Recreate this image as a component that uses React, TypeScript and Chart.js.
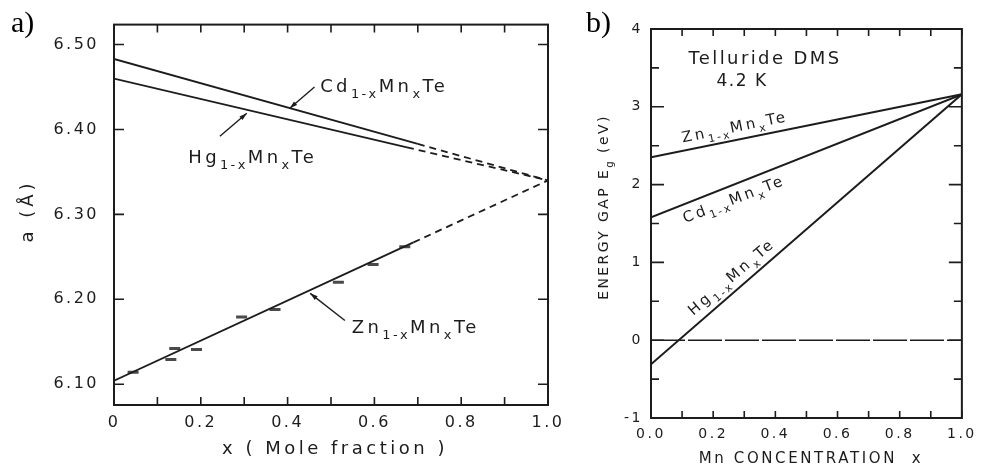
import React, { useEffect, useRef } from 'react';
import { Chart, registerables } from 'chart.js';

Chart.register(...registerables);

const FONT = '"DejaVu Sans", sans-serif';
const SERIF = '"Liberation Serif", "Times New Roman", serif';
const INK = '#1c1c1c';

// ---------------- Panel a: lattice constant ----------------
const aTickX = [0, 0.1, 0.2, 0.3, 0.4, 0.5, 0.6, 0.7, 0.8, 0.9, 1.0];
const aTickXLabels = ['0', '', '0.2', '', '0.4', '', '0.6', '', '0.8', '', '1.0'];
const aTickY = [6.1, 6.2, 6.3, 6.4, 6.5];
const aTickYLabels = ['6.10', '6.20', '6.30', '6.40', '6.50'];

const cdSolidX = [0, 0.70];
const cdSolidA = [6.483, 6.383];
const cdDashX = [0.70, 1.0];
const cdDashA = [6.383, 6.340];

const hgSolidX = [0, 0.675];
const hgSolidA = [6.460, 6.379];
const hgDashX = [0.675, 1.0];
const hgDashA = [6.379, 6.340];

const znSolidX = [0, 0.69];
const znSolidA = [6.104, 6.267];
const znDashX = [0.69, 1.0];
const znDashA = [6.267, 6.340];

const znMeasX = [0.044, 0.131, 0.14, 0.19, 0.294, 0.371, 0.517, 0.597, 0.67];
const znMeasA = [6.114, 6.129, 6.142, 6.141, 6.179, 6.188, 6.220, 6.241, 6.262];

// ---------------- Panel b: energy gap ----------------
const bTickX = [0, 0.1, 0.2, 0.3, 0.4, 0.5, 0.6, 0.7, 0.8, 0.9, 1.0];
const bTickXLabels = ['0.0', '', '0.2', '', '0.4', '', '0.6', '', '0.8', '', '1.0'];
const bTickY = [-1, -0.5, 0, 0.5, 1, 1.5, 2, 2.5, 3, 3.5, 4];
const bTickYLabels = ['-1', '', '0', '', '1', '', '2', '', '3', '', '4'];

const mnX = [0, 1];
const znEg = [2.35, 3.16];
const cdEg = [1.58, 3.16];
const hgEg = [-0.31, 3.16];
const zeroEg = [0, 0];

// ---------------- text helpers ----------------
type Seg = { t: string; sub?: boolean };
const name = (a: string): Seg[] => [
  { t: a }, { t: '1-x', sub: true }, { t: 'Mn' }, { t: 'x', sub: true }, { t: 'Te' },
];

type TxtOpt = { size: number; sp: number; align?: 'left' | 'center'; angle?: number; weight?: string; family?: string };

function segsWidth(ctx: CanvasRenderingContext2D, segs: Seg[], o: TxtOpt) {
  let w = 0;
  for (const s of segs) {
    const fs = s.sub ? o.size * 0.72 : o.size;
    ctx.font = `${o.weight || 'normal'} ${fs}px ${o.family || FONT}`;
    (ctx as any).letterSpacing = `${s.sub ? o.sp * 0.7 : o.sp}px`;
    w += ctx.measureText(s.t).width;
  }
  return w;
}

function drawRich(ctx: CanvasRenderingContext2D, segs: Seg[], x: number, y: number, o: TxtOpt) {
  ctx.save();
  ctx.translate(x, y);
  if (o.angle) ctx.rotate((o.angle * Math.PI) / 180);
  const w = segsWidth(ctx, segs, o);
  let cx = o.align === 'left' ? 0 : -w / 2;
  const base = o.size * 0.36;
  ctx.textAlign = 'left';
  ctx.textBaseline = 'alphabetic';
  ctx.fillStyle = INK;
  for (const s of segs) {
    const fs = s.sub ? o.size * 0.72 : o.size;
    ctx.font = `${o.weight || 'normal'} ${fs}px ${o.family || FONT}`;
    (ctx as any).letterSpacing = `${s.sub ? o.sp * 0.7 : o.sp}px`;
    ctx.fillText(s.t, cx, s.sub ? base + o.size * 0.34 : base);
    cx += ctx.measureText(s.t).width;
  }
  ctx.restore();
}

function arrow(ctx: CanvasRenderingContext2D, x1: number, y1: number, x2: number, y2: number) {
  ctx.save();
  ctx.strokeStyle = INK;
  ctx.fillStyle = INK;
  ctx.lineWidth = 1.4;
  ctx.beginPath();
  ctx.moveTo(x1, y1);
  ctx.lineTo(x2, y2);
  ctx.stroke();
  const a = Math.atan2(y2 - y1, x2 - x1);
  const L = 8;
  ctx.beginPath();
  ctx.moveTo(x2, y2);
  ctx.lineTo(x2 - L * Math.cos(a - 0.3), y2 - L * Math.sin(a - 0.3));
  ctx.lineTo(x2 - L * Math.cos(a + 0.3), y2 - L * Math.sin(a + 0.3));
  ctx.closePath();
  ctx.fill();
  ctx.restore();
}

function drawFrameTicks(
  chart: any,
  xs: number[],
  ys: number[],
  xLen: (v: number) => number,
  yLen: (v: number) => number,
) {
  const { ctx, chartArea: ca, scales } = chart;
  ctx.save();
  ctx.strokeStyle = INK;
  ctx.lineWidth = 1.6;
  ctx.beginPath();
  for (const v of xs) {
    const px = scales.x.getPixelForValue(v);
    const L = xLen(v);
    ctx.moveTo(px, ca.bottom);
    ctx.lineTo(px, ca.bottom - L);
    ctx.moveTo(px, ca.top);
    ctx.lineTo(px, ca.top + L);
  }
  for (const v of ys) {
    const py = scales.y.getPixelForValue(v);
    const L = yLen(v);
    ctx.moveTo(ca.left, py);
    ctx.lineTo(ca.left + L, py);
    ctx.moveTo(ca.right, py);
    ctx.lineTo(ca.right - L, py);
  }
  ctx.stroke();
  ctx.lineWidth = 2;
  ctx.strokeRect(ca.left, ca.top, ca.right - ca.left, ca.bottom - ca.top);
  ctx.restore();
}

const pts = (xs: number[], ys: number[]) => xs.map((x, i) => ({ x, y: ys[i] }));
const lineDs = (xs: number[], ys: number[], dash: number[] = [], w = 1.8) => ({
  data: pts(xs, ys),
  showLine: true,
  borderColor: INK,
  borderWidth: w,
  borderDash: dash,
  pointRadius: 0,
  tension: 0,
});

// annotation layout (positions in data units)
const annA = [
  { segs: name('Cd'), x: 0.475, y: 6.452, fx: 0.462, fy: 6.450, tx: 0.405, ty: 6.425 },
  { segs: name('Hg'), x: 0.171, y: 6.368, fx: 0.244, fy: 6.392, tx: 0.306, ty: 6.419 },
  { segs: name('Zn'), x: 0.548, y: 6.168, fx: 0.532, fy: 6.175, tx: 0.452, ty: 6.207 },
];
const annB = [
  { segs: name('Zn'), x: 0.269, y: 2.747, angle: -11.5 },
  { segs: name('Cd'), x: 0.266, y: 1.821, angle: -21 },
  { segs: name('Hg'), x: 0.258, y: 0.819, angle: -40.5 },
];

function configA(): any {
  const deco = {
    id: 'decoA',
    beforeDraw(chart: any) {
      (chart.ctx as any).letterSpacing = '2.5px';
    },
    afterDraw(chart: any) {
      const ctx = chart.ctx as CanvasRenderingContext2D;
      (ctx as any).letterSpacing = '0px';
      drawFrameTicks(chart, aTickX, aTickY, () => 8, () => 10);
      const sx = chart.scales.x, sy = chart.scales.y;
      for (const a of annA) {
        drawRich(ctx, a.segs, sx.getPixelForValue(a.x), sy.getPixelForValue(a.y), { size: 18, sp: 3.4, align: 'left' });
        arrow(ctx, sx.getPixelForValue(a.fx), sy.getPixelForValue(a.fy), sx.getPixelForValue(a.tx), sy.getPixelForValue(a.ty));
      }
      drawRich(ctx, [{ t: 'x ( Mole fraction )' }], 335, 448, { size: 18, sp: 3.5 });
      drawRich(ctx, [{ t: 'a (Å)' }], 27, 211, { size: 18, sp: 4, angle: -90 });
      ctx.save();
      (ctx as any).letterSpacing = '0px';
      ctx.font = `30px ${SERIF}`;
      ctx.fillStyle = '#000';
      ctx.textBaseline = 'alphabetic';
      ctx.textAlign = 'left';
      ctx.fillText('a)', 11, 32);
      ctx.restore();
    },
  };
  return {
    type: 'scatter',
    data: {
      datasets: [
        lineDs(cdSolidX, cdSolidA),
        lineDs(cdDashX, cdDashA, [7, 5]),
        lineDs(hgSolidX, hgSolidA),
        lineDs(hgDashX, hgDashA, [7, 5]),
        lineDs(znSolidX, znSolidA),
        lineDs(znDashX, znDashA, [7, 5]),
        {
          data: pts(znMeasX, znMeasA),
          showLine: false,
          pointStyle: 'line',
          pointRadius: 5.5,
          pointBorderWidth: 3,
          pointBorderColor: '#4a4a4a',
          pointBackgroundColor: '#4a4a4a',
        },
      ],
    },
    options: {
      animation: false,
      responsive: false,
      events: [],
      layout: { padding: { left: 0, top: 23, right: 27, bottom: 0 } },
      plugins: { legend: { display: false }, tooltip: { enabled: false } },
      scales: {
        x: {
          type: 'linear',
          min: 0,
          max: 1,
          grid: { display: false, drawTicks: false },
          border: { display: false },
          afterBuildTicks: (s: any) => { s.ticks = aTickX.map((v) => ({ value: v })); },
          afterFit: (s: any) => { s.height = 61; },
          ticks: {
            autoSkip: false, maxRotation: 0, padding: 8, color: INK,
            font: { family: FONT, size: 16 },
            callback: (_v: any, i: number) => aTickXLabels[i],
          },
        },
        y: {
          type: 'linear',
          min: 6.0755,
          max: 6.5235,
          grid: { display: false, drawTicks: false },
          border: { display: false },
          afterBuildTicks: (s: any) => { s.ticks = aTickY.map((v) => ({ value: v })); },
          afterFit: (s: any) => { s.width = 114; },
          ticks: {
            autoSkip: false, padding: 15, color: INK,
            font: { family: FONT, size: 16 },
            callback: (_v: any, i: number) => aTickYLabels[i],
          },
        },
      },
    },
    plugins: [deco],
  };
}

function configB(): any {
  const deco = {
    id: 'decoB',
    beforeDraw(chart: any) {
      (chart.ctx as any).letterSpacing = '2.5px';
    },
    afterDraw(chart: any) {
      const ctx = chart.ctx as CanvasRenderingContext2D;
      (ctx as any).letterSpacing = '0px';
      drawFrameTicks(chart, bTickX, bTickY, () => 7, (v) => (Number.isInteger(v) ? 13 : 8));
      const sx = chart.scales.x, sy = chart.scales.y;
      for (const a of annB) {
        drawRich(ctx, a.segs, sx.getPixelForValue(a.x), sy.getPixelForValue(a.y), { size: 15, sp: 3, angle: a.angle });
      }
      drawRich(ctx, [{ t: 'Telluride DMS' }], 190, 58, { size: 18, sp: 2.4 });
      drawRich(ctx, [{ t: '4.2 K' }], 167, 80, { size: 17, sp: 1.5 });
      drawRich(ctx, [{ t: 'Mn CONCENTRATION  x' }], 236, 458, { size: 15, sp: 2.6 });
      drawRich(ctx, [{ t: 'ENERGY GAP E' }, { t: 'g', sub: true }, { t: ' (eV)' }], 28, 207, { size: 14, sp: 2.4, angle: -90 });
      ctx.save();
      (ctx as any).letterSpacing = '0px';
      ctx.font = `30px ${SERIF}`;
      ctx.fillStyle = '#000';
      ctx.textBaseline = 'alphabetic';
      ctx.textAlign = 'left';
      ctx.fillText('b)', 11, 32);
      ctx.restore();
    },
  };
  return {
    type: 'scatter',
    data: {
      datasets: [
        lineDs(mnX, zeroEg, [34, 3], 1.5),
        lineDs(mnX, znEg, [], 2),
        lineDs(mnX, cdEg, [], 2),
        lineDs(mnX, hgEg, [], 2),
      ],
    },
    options: {
      animation: false,
      responsive: false,
      events: [],
      layout: { padding: { left: 0, top: 29, right: 14, bottom: 0 } },
      plugins: { legend: { display: false }, tooltip: { enabled: false } },
      scales: {
        x: {
          type: 'linear',
          min: 0,
          max: 1,
          grid: { display: false, drawTicks: false },
          border: { display: false },
          afterBuildTicks: (s: any) => { s.ticks = bTickX.map((v) => ({ value: v })); },
          afterFit: (s: any) => { s.height = 48; },
          ticks: {
            autoSkip: false, maxRotation: 0, padding: 8, color: INK,
            font: { family: FONT, size: 14 },
            callback: (_v: any, i: number) => bTickXLabels[i],
          },
        },
        y: {
          type: 'linear',
          min: -1,
          max: 4,
          grid: { display: false, drawTicks: false },
          border: { display: false },
          afterBuildTicks: (s: any) => { s.ticks = bTickY.map((v) => ({ value: v })); },
          afterFit: (s: any) => { s.width = 76; },
          ticks: {
            autoSkip: false, padding: 8, color: INK,
            font: { family: FONT, size: 14 },
            callback: (_v: any, i: number) => bTickYLabels[i],
          },
        },
      },
    },
    plugins: [deco],
  };
}

export default function App() {
  const refA = useRef<HTMLCanvasElement>(null);
  const refB = useRef<HTMLCanvasElement>(null);
  useEffect(() => {
    const ca = new Chart(refA.current as HTMLCanvasElement, configA());
    const cb = new Chart(refB.current as HTMLCanvasElement, configB());
    return () => {
      ca.destroy();
      cb.destroy();
    };
  }, []);
  return (
    <div style={{ position: 'fixed', left: 0, top: 0, width: 981, height: 466, background: '#fff', overflow: 'hidden' }}>
      <canvas ref={refA} width={575} height={466} style={{ position: 'absolute', left: 0, top: 0, width: 575, height: 466 }} />
      <canvas ref={refB} width={406} height={466} style={{ position: 'absolute', left: 575, top: 0, width: 406, height: 466 }} />
    </div>
  );
}
